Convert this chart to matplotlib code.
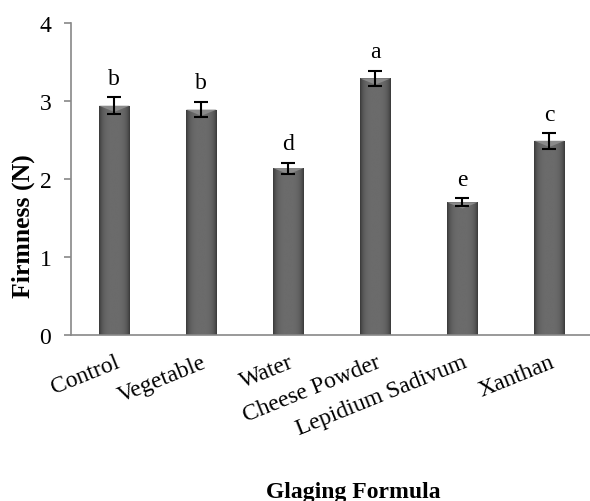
import numpy as np
import matplotlib
matplotlib.use("Agg")
import matplotlib.pyplot as plt

categories = ["Control", "Vegetable", "Water", "Cheese Powder", "Lepidium Sadivum", "Xanthan"]
firmness = [2.94, 2.89, 2.14, 3.29, 1.70, 2.49]
errors = [0.11, 0.10, 0.07, 0.10, 0.05, 0.10]
letters = ["b", "b", "d", "a", "e", "c"]
yticks = [0, 1, 2, 3, 4]

plt.rcParams['font.family'] = ['Liberation Serif', 'DejaVu Serif']

fig = plt.figure(figsize=(5.9, 5.02), dpi=100)
ax = fig.add_axes([0.120, 0.331, 0.885, 0.621])

x = np.arange(len(categories))
bars = ax.bar(x, firmness, width=0.35, color="#555555", edgecolor="none", zorder=2)

# gradient shading inside each bar (horizontal: dark edges, lighter centre)
grad = np.linspace(-1, 1, 64)
shade = 0.42 - 0.19 * grad ** 4
img = np.tile(shade, (8, 1))
for b in bars:
    x0, y0 = b.get_x(), b.get_y()
    w, h = b.get_width(), b.get_height()
    im = ax.imshow(img, cmap="gray", vmin=0, vmax=1, aspect="auto",
                   extent=[x0, x0 + w, y0, y0 + h], zorder=2.5, interpolation="bilinear")
    im.set_clip_path(b)
    # top bevel triangle
    tri = plt.Polygon([[x0, y0 + h], [x0 + w, y0 + h], [x0 + w / 2, y0 + h - 0.08]],
                      closed=True, color="#8a8a8a", zorder=2.6, lw=0)
    ax.add_patch(tri)

ax.errorbar(x, firmness, yerr=errors, fmt="none", ecolor="black",
            elinewidth=1.5, capsize=5, capthick=1.5, zorder=3)

for xi, v, e, l in zip(x, firmness, errors, letters):
    ax.annotate(l, (xi, v + e), xytext=(0, 6), textcoords="offset points",
                ha="center", va="bottom", fontsize=17)

ax.set_xlim(-0.5, len(categories) - 0.5)
ax.set_ylim(0, 4)
ax.set_yticks(yticks)
ax.set_yticklabels([str(t) for t in yticks], fontsize=17)
ax.tick_params(axis="y", direction="out", length=5, color="#888888", width=1.2, pad=9)
ax.tick_params(axis="x", length=0, pad=12)

for s in ["top", "right"]:
    ax.spines[s].set_visible(False)
for s in ["left", "bottom"]:
    ax.spines[s].set_color("#888888")
    ax.spines[s].set_linewidth(1.2)

ax.set_xticks(x)
ax.set_xticklabels(categories, fontsize=17, rotation=22, ha="right",
                   rotation_mode="anchor")

ax.set_ylabel("Firmness (N)", fontsize=18.5, fontweight="bold")
ax.yaxis.set_label_coords(-0.069, 0.353)
fig.text(0.599, 0.040, "Glaging Formula", fontsize=17, fontweight="bold",
         ha="center", va="top")

fig.savefig("out.png", dpi=100)
